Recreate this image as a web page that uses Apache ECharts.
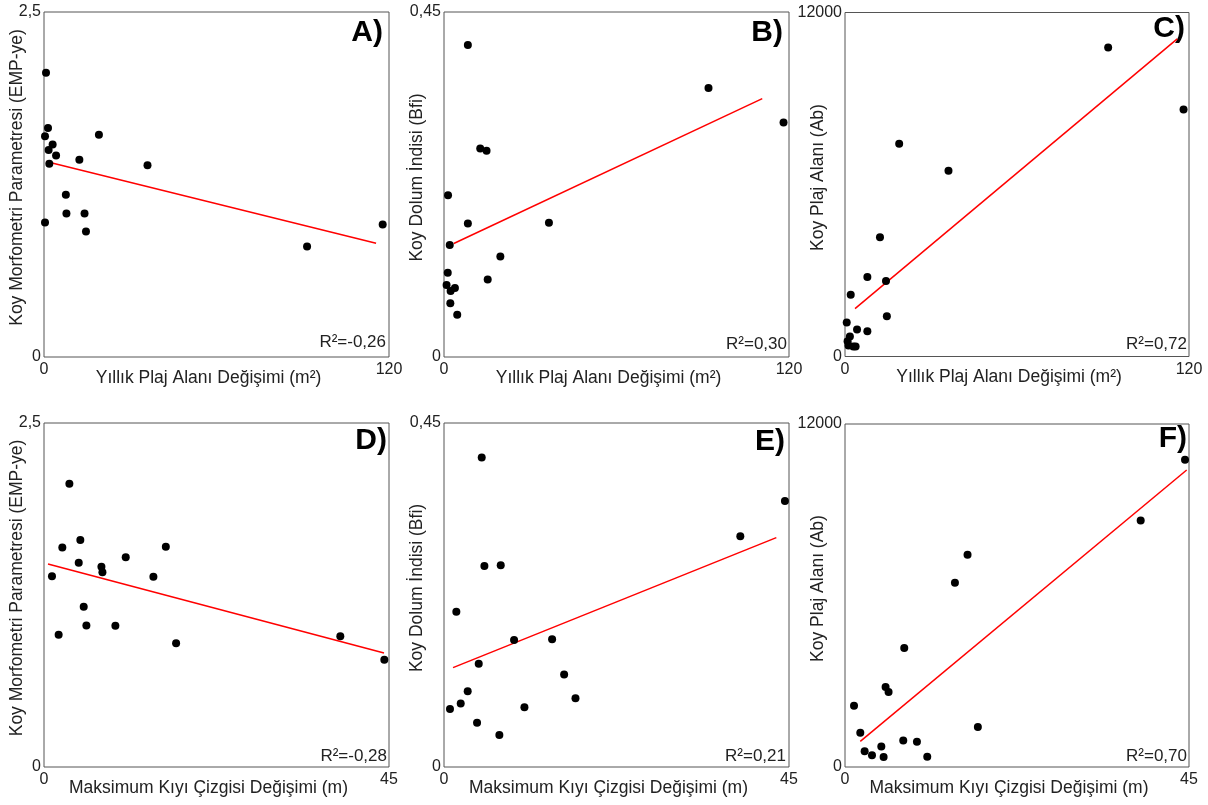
<!DOCTYPE html>
<html>
<head>
<meta charset="utf-8">
<script src="https://cdn.jsdelivr.net/npm/echarts@6/dist/echarts.min.js"></script>
<style>
html,body{margin:0;padding:0;background:#fff;}
#chart{width:1208px;height:805px;}
</style>
</head>
<body>
<div id="chart"></div>
<script>
// ---- Axis titles / labels ----
const xNameTop = 'Yıllık Plaj Alanı Değişimi (m²)';
const xNameBottom = 'Maksimum Kıyı Çizgisi Değişimi (m)';
const yNames = ['Koy Morfometri Parametresi (EMP-ye)', 'Koy Dolum İndisi (Bfi)', 'Koy Plaj Alanı (Ab)'];
const panelLetters = ['A)', 'B)', 'C)', 'D)', 'E)', 'F)'];
const r2Labels = ['R²=-0,26', 'R²=0,30', 'R²=0,72', 'R²=-0,28', 'R²=0,21', 'R²=0,70'];
const xMaxTop = 120, xMaxBottom = 45;
const yMaxes = [2.5, 0.45, 12000];

// ---- Panel A ----
const aX = [0.7, 1.4, 0.35, 3.0, 1.6, 4.2, 1.85, 12.3, 19.1, 36.0, 7.6, 7.8, 14.1, 14.6, 0.35, 91.5, 117.8];
const aY = [2.06, 1.66, 1.60, 1.54, 1.50, 1.46, 1.40, 1.43, 1.61, 1.39, 1.175, 1.04, 1.04, 0.91, 0.975, 0.80, 0.96];
const aFitX = [0.7, 115.5], aFitY = [1.416, 0.825];
// ---- Panel B ----
const bX = [8.3, 92.0, 118.1, 12.6, 14.8, 1.4, 8.3, 36.5, 2.0, 19.6, 15.2, 1.3, 0.9, 2.3, 3.8, 2.2, 4.6];
const bY = [0.407, 0.351, 0.306, 0.272, 0.269, 0.211, 0.174, 0.175, 0.146, 0.131, 0.101, 0.110, 0.094, 0.086, 0.090, 0.070, 0.055];
const bFitX = [3.4, 110.7], bFitY = [0.148, 0.337];
// ---- Panel C ----
const cX = [91.8, 118.1, 18.9, 36.1, 12.2, 7.8, 14.3, 2.0, 14.6, 0.6, 4.2, 7.8, 1.7, 0.9, 1.2, 2.9, 3.7];
const cY = [10780, 8620, 7420, 6480, 4160, 2770, 2630, 2150, 1400, 1190, 940, 880, 700, 535, 385, 350, 350];
const cFitX = [3.5, 115.9], cFitY = [1670, 11080];
// ---- Panel D ----
const dX = [3.31, 4.74, 2.39, 15.89, 10.66, 4.53, 7.49, 7.62, 1.04, 14.27, 5.18, 5.53, 9.31, 1.91, 17.23, 38.65, 44.39];
const dY = [2.058, 1.650, 1.595, 1.600, 1.524, 1.485, 1.456, 1.415, 1.386, 1.383, 1.165, 1.029, 1.027, 0.961, 0.900, 0.951, 0.779];
const dFitX = [0.52, 44.35], dFitY = [1.476, 0.828];
// ---- Panel E ----
const eX = [4.92, 44.47, 38.65, 5.27, 7.40, 1.61, 9.14, 14.10, 4.53, 15.67, 3.09, 17.15, 2.18, 0.78, 10.49, 4.31, 7.22];
const eY = [0.405, 0.348, 0.302, 0.263, 0.264, 0.203, 0.166, 0.167, 0.135, 0.121, 0.099, 0.090, 0.083, 0.076, 0.078, 0.058, 0.042];
const eFitX = [1.18, 43.35], eFitY = [0.130, 0.300];
// ---- Panel F ----
const fX = [44.48, 38.68, 16.03, 14.38, 7.75, 5.31, 5.70, 1.18, 17.38, 2.00, 7.62, 9.41, 4.75, 2.57, 3.53, 5.05, 10.76];
const fY = [10750, 8620, 7430, 6450, 4160, 2800, 2620, 2140, 1400, 1200, 930, 885, 720, 550, 410, 350, 360];
const fFitX = [2.00, 44.7], fFitY = [897, 10390];

const panels = [
  {x: aX, y: aY, fx: aFitX, fy: aFitY, xMax: xMaxTop, yMax: yMaxes[0], xName: xNameTop, yName: yNames[0]},
  {x: bX, y: bY, fx: bFitX, fy: bFitY, xMax: xMaxTop, yMax: yMaxes[1], xName: xNameTop, yName: yNames[1]},
  {x: cX, y: cY, fx: cFitX, fy: cFitY, xMax: xMaxTop, yMax: yMaxes[2], xName: xNameTop, yName: yNames[2]},
  {x: dX, y: dY, fx: dFitX, fy: dFitY, xMax: xMaxBottom, yMax: yMaxes[0], xName: xNameBottom, yName: yNames[0]},
  {x: eX, y: eY, fx: eFitX, fy: eFitY, xMax: xMaxBottom, yMax: yMaxes[1], xName: xNameBottom, yName: yNames[1]},
  {x: fX, y: fY, fx: fFitX, fy: fFitY, xMax: xMaxBottom, yMax: yMaxes[2], xName: xNameBottom, yName: yNames[2]}
];

// layout (pixels)
const layout = [
  {left: 44, top: 12, width: 345, height: 345},
  {left: 444, top: 12, width: 345, height: 345},
  {left: 845, top: 12.5, width: 344, height: 344},
  {left: 44, top: 423, width: 345, height: 344},
  {left: 444, top: 423, width: 345, height: 344},
  {left: 845, top: 424, width: 344, height: 343}
];
const letterPos = [[383, 33], [783, 33], [1185, 29], [387, 441], [785, 442], [1187, 439]];
const r2Pos = [[386, 342], [787, 344], [1187, 344], [387, 756], [786, 756], [1187, 756]];

const FONT = '"Liberation Sans", Arial, sans-serif';
const fmt = v => String(v).replace('.', ',');

const grids = [], xAxes = [], yAxes = [], series = [], graphics = [];
panels.forEach((p, i) => {
  const L = layout[i];
  grids.push({left: L.left, top: L.top, width: L.width, height: L.height, show: true,
    borderColor: '#555', borderWidth: 1, backgroundColor: 'transparent'});
  xAxes.push({type: 'value', gridIndex: i, min: 0, max: p.xMax, interval: p.xMax,
    splitLine: {show: false}, axisTick: {show: false}, axisLine: {show: false},
    axisLabel: {show: true, showMinLabel: true, showMaxLabel: true, margin: 5, color: '#222',
      fontSize: 16, fontFamily: FONT, formatter: fmt},
    name: p.xName, nameLocation: 'middle', nameGap: 12, nameMoveOverlap: false,
    nameTextStyle: {fontSize: 17.5, color: '#222', fontFamily: FONT, padding: [0, 16, 0, 0]}
  });
  yAxes.push({type: 'value', gridIndex: i, min: 0, max: p.yMax, interval: p.yMax,
    splitLine: {show: false}, axisTick: {show: false}, axisLine: {show: false},
    axisLabel: {show: true, showMinLabel: true, showMaxLabel: true, margin: 3, color: '#222',
      fontSize: 16, fontFamily: FONT, formatter: fmt},
    name: p.yName, nameLocation: 'middle', nameGap: 18, nameMoveOverlap: false,
    nameTextStyle: {fontSize: 17.5, color: '#222', fontFamily: FONT, padding: [0, 0, 0, 14]}
  });
  series.push({type: 'line', xAxisIndex: i, yAxisIndex: i,
    data: p.fx.map((v, k) => [v, p.fy[k]]), showSymbol: false, symbol: 'none',
    lineStyle: {color: '#ff0000', width: 1.5}, silent: true, z: 2});
  series.push({type: 'scatter', xAxisIndex: i, yAxisIndex: i,
    data: p.x.map((v, k) => [v, p.y[k]]), symbol: 'circle', symbolSize: 8,
    itemStyle: {color: '#000', opacity: 1}, z: 3});
  graphics.push({type: 'text', x: letterPos[i][0], y: letterPos[i][1],
    style: {text: panelLetters[i], font: 'bold 30px ' + FONT, fill: '#000', align: 'right', verticalAlign: 'middle'}});
  graphics.push({type: 'text', x: r2Pos[i][0], y: r2Pos[i][1],
    style: {text: r2Labels[i], font: '17px ' + FONT, fill: '#222', align: 'right', verticalAlign: 'middle'}});
});

const chart = echarts.init(document.getElementById('chart'), null, {renderer: 'canvas'});
chart.setOption({
  animation: false,
  backgroundColor: '#fff',
  grid: grids, xAxis: xAxes, yAxis: yAxes, series: series, graphic: graphics
});
</script>
</body>
</html>
